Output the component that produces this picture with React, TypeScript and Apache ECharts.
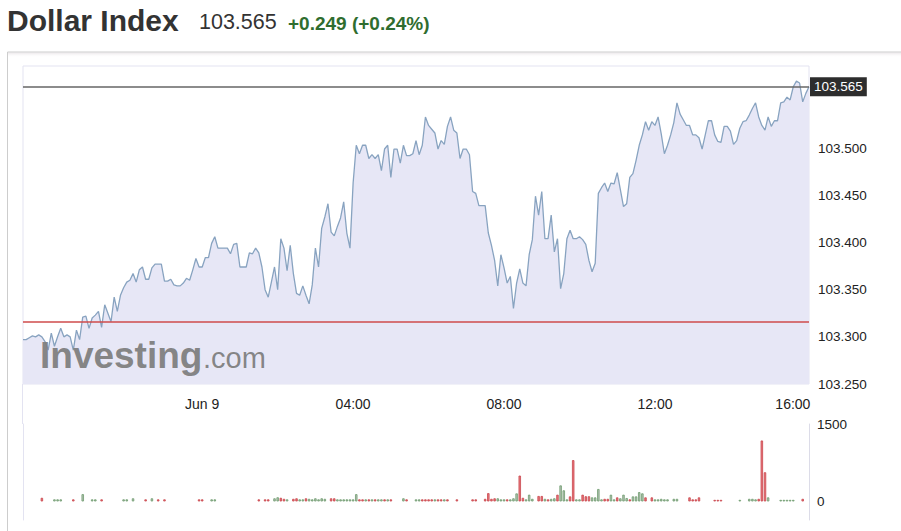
import { useEffect, useRef } from 'react';
import * as echarts from 'echarts';

const FONT = '"Liberation Sans", Arial, Helvetica, sans-serif';

const titleText = 'Dollar Index';
const lastPriceText = '103.565';
const changeText = '+0.249 (+0.24%)';
const watermarkMain = 'Investing';
const watermarkTail = '.com';

const lastPrice = 103.565;
const prevClose = 103.316;

// 5-minute closes from Jun 8 19:15 (minute -285 relative to Jun 9 00:00) to Jun 9 16:05
const startMinute = -285;
const stepMinutes = 5;
const priceValues = [
  103.297, 103.297, 103.299, 103.301, 103.300, 103.302, 103.300, 103.295, 103.286, 103.304,
  103.290, 103.300, 103.309, 103.300, 103.302, 103.300, 103.286, 103.307, 103.297, 103.321,
  103.322, 103.309, 103.320, 103.323, 103.327, 103.310, 103.334, 103.325, 103.316, 103.342,
  103.327, 103.344, 103.352, 103.358, 103.360, 103.367, 103.358, 103.371, 103.374, 103.361,
  103.361, 103.373, 103.377, 103.377, 103.377, 103.359, 103.359, 103.361, 103.355, 103.354,
  103.354, 103.357, 103.362, 103.360, 103.371, 103.383, 103.374, 103.374, 103.384, 103.384,
  103.399, 103.406, 103.394, 103.394, 103.394, 103.394, 103.388, 103.398, 103.399, 103.374,
  103.374, 103.374, 103.389, 103.388, 103.394, 103.389, 103.374, 103.350, 103.342, 103.358,
  103.374, 103.350, 103.404, 103.394, 103.370, 103.397, 103.367, 103.346, 103.344, 103.354,
  103.344, 103.335, 103.355, 103.394, 103.374, 103.415, 103.427, 103.441, 103.411, 103.407,
  103.417, 103.426, 103.443, 103.410, 103.394, 103.463, 103.503, 103.494, 103.503, 103.503,
  103.489, 103.493, 103.489, 103.493, 103.476, 103.499, 103.503, 103.469, 103.499, 103.499,
  103.484, 103.503, 103.492, 103.492, 103.494, 103.508, 103.493, 103.503, 103.533, 103.524,
  103.520, 103.516, 103.499, 103.508, 103.504, 103.523, 103.533, 103.519, 103.516, 103.489,
  103.499, 103.499, 103.493, 103.454, 103.452, 103.439, 103.439, 103.439, 103.410, 103.397,
  103.381, 103.354, 103.387, 103.373, 103.357, 103.364, 103.330, 103.357, 103.372, 103.357,
  103.354, 103.387, 103.403, 103.449, 103.429, 103.454, 103.404, 103.404, 103.429, 103.390,
  103.404, 103.351, 103.367, 103.404, 103.413, 103.404, 103.404, 103.406, 103.403, 103.398,
  103.381, 103.369, 103.378, 103.452, 103.458, 103.463, 103.454, 103.463, 103.462, 103.474,
  103.456, 103.438, 103.441, 103.469, 103.473, 103.487, 103.503, 103.514, 103.528, 103.519,
  103.528, 103.524, 103.533, 103.515, 103.494, 103.503, 103.514, 103.527, 103.548, 103.536,
  103.530, 103.524, 103.524, 103.514, 103.514, 103.511, 103.499, 103.514, 103.529, 103.529,
  103.514, 103.507, 103.506, 103.523, 103.523, 103.518, 103.504, 103.508, 103.521, 103.528,
  103.529, 103.535, 103.542, 103.548, 103.533, 103.524, 103.519, 103.533, 103.523, 103.529,
  103.529, 103.548, 103.549, 103.554, 103.551, 103.565, 103.571, 103.569, 103.549, 103.558,
  103.565,
];

// Volume bars: 5-minute slot index, volume, direction (u = up, d = down)
const volSlots = [
  6, 10, 11, 12, 16, 19, 22, 23, 25, 32,
  33, 35, 39, 41, 43, 45, 56, 57, 60, 61,
  75, 77, 78, 80, 81, 82, 83, 84, 86, 87,
  88, 89, 90, 91, 92, 93, 94, 95, 96, 98,
  99, 100, 101, 102, 103, 104, 105, 106, 107, 108,
  109, 110, 111, 112, 113, 114, 115, 116, 117, 121,
  122, 125, 126, 127, 128, 129, 130, 131, 132, 133,
  134, 135, 138, 143, 144, 147, 148, 149, 150, 151,
  152, 153, 154, 155, 156, 157, 158, 159, 160, 161,
  162, 164, 165, 166, 167, 168, 169, 170, 171, 172,
  173, 174, 175, 176, 177, 178, 179, 180, 181, 182,
  183, 184, 185, 186, 187, 188, 189, 190, 191, 192,
  193, 194, 195, 196, 197, 198, 200, 201, 202, 203,
  204, 205, 207, 208, 212, 213, 214, 215, 220, 221,
  222, 228, 231, 232, 233, 234, 235, 236, 237, 241,
  242, 243, 244, 245, 248,
];
const volValues = [
  70, 40, 40, 40, 40, 140, 40, 40, 40, 40,
  40, 60, 40, 60, 40, 40, 40, 40, 40, 40,
  40, 40, 40, 60, 80, 70, 50, 40, 50, 60,
  40, 40, 60, 50, 40, 60, 40, 60, 50, 60,
  60, 40, 40, 40, 40, 40, 40, 140, 40, 40,
  40, 40, 40, 40, 40, 40, 40, 40, 40, 60,
  40, 40, 40, 40, 40, 40, 40, 40, 40, 40,
  40, 40, 40, 40, 40, 50, 160, 50, 60, 60,
  40, 40, 40, 40, 60, 155, 500, 70, 40, 130,
  50, 105, 105, 50, 40, 50, 60, 130, 310, 215,
  40, 97, 800, 40, 40, 130, 100, 100, 78, 78,
  240, 40, 50, 50, 130, 40, 78, 60, 130, 65,
  40, 97, 97, 180, 156, 78, 78, 40, 40, 50,
  40, 40, 50, 50, 78, 40, 40, 78, 30, 30,
  30, 30, 50, 50, 40, 50, 1180, 565, 78, 30,
  30, 30, 30, 30, 50,
];
const volDirs = (
  'duuuduuudu' + 'uududddduu' + 'ddduuddudd' + 'uuduuuuuud' + 'duuuuuuudd' +
  'ududuududu' + 'duuddddudd' + 'uddddddddu' + 'uuduuudduu' + 'udduduuduu' +
  'udduuddduu' + 'uudduuduuu' + 'duuuudduuu' + 'uuuudddddd' + 'duuuuddduu' + 'uuuud'
).split('');

const xTickValues = [0, 240, 480, 720, 960];
const xTickLabels = ['Jun 9', '04:00', '08:00', '12:00', '16:00'];
const yTickValues = [103.25, 103.3, 103.35, 103.4, 103.45, 103.5];
const volTickValues = [0, 1500];

const xMin = startMinute;
const xMax = startMinute + (priceValues.length - 1) * stepMinutes;

export default function App() {
  const ref = useRef<HTMLDivElement>(null);

  useEffect(() => {
    if (!ref.current) return;
    const chart = echarts.init(ref.current, null, { renderer: 'svg' });

    const priceData = priceValues.map((v, i) => [startMinute + i * stepMinutes, v]);
    const volData = volSlots.map((s, i) => {
      const up = volDirs[i] === 'u';
      return {
        value: [startMinute + s * stepMinutes, volValues[i]],
        itemStyle: up
          ? { color: '#b7bfb7', borderColor: '#6d9d6d', borderWidth: 0.8 }
          : { color: '#e8777c', borderColor: '#c9474e', borderWidth: 0.8 },
      };
    });

    const option = {
      animation: false,
      textStyle: { fontFamily: FONT },
      grid: [
        {
          left: 23, right: 92, top: 66, height: 318,
          show: true, borderColor: '#e3e3f1', borderWidth: 1, backgroundColor: 'transparent',
        },
        { left: 23, right: 92, top: 424, height: 96 },
      ],
      xAxis: [
        {
          type: 'value', gridIndex: 0, min: xMin, max: xMax,
          axisLine: { show: false }, axisTick: { show: false }, splitLine: { show: false },
          axisLabel: {
            customValues: xTickValues,
            color: '#222', fontSize: 14, fontFamily: FONT, margin: 13,
            formatter: (v: number) => {
              const k = xTickValues.indexOf(v);
              if (k < 0) return '';
              return k === xTickValues.length - 1 ? '{r|' + xTickLabels[k] + '}' : xTickLabels[k];
            },
            rich: { r: { fontSize: 14, color: '#222', fontFamily: FONT, padding: [0, 26, 0, 0] } },
          },
        },
        { type: 'value', gridIndex: 1, min: xMin, max: xMax, show: false },
      ],
      yAxis: [
        {
          type: 'value', gridIndex: 0, position: 'right', min: 103.25, max: 103.587,
          axisLine: { show: false }, axisTick: { show: false }, splitLine: { show: false },
          axisLabel: {
            customValues: yTickValues, color: '#222', fontSize: 13.5, fontFamily: FONT, margin: 9,
            formatter: (v: number) => v.toFixed(3),
          },
        },
        {
          type: 'value', gridIndex: 1, position: 'right', min: -360, max: 1500,
          axisLine: { show: true, onZero: false, lineStyle: { color: '#dcdce8', width: 1 } },
          axisTick: { show: false }, splitLine: { show: false },
          axisLabel: {
            customValues: volTickValues, color: '#222', fontSize: 13.5, fontFamily: FONT, margin: 8,
            formatter: (v: number) => String(Math.round(v)),
          },
        },
        {
          type: 'value', gridIndex: 1, position: 'left', min: -360, max: 1500,
          axisLine: { show: true, onZero: false, lineStyle: { color: '#e3e3f1', width: 1 } },
          axisTick: { show: false }, splitLine: { show: false }, axisLabel: { show: false },
        },
      ],
      series: [
        {
          type: 'line', xAxisIndex: 0, yAxisIndex: 0, data: priceData,
          showSymbol: false, symbol: 'none',
          lineStyle: { color: '#88a3c0', width: 1.3 },
          areaStyle: { color: '#e7e7f6', opacity: 1, origin: 'start' },
          markLine: {
            silent: true, symbol: ['none', 'none'], animation: false, precision: 3,
            data: [
              {
                yAxis: lastPrice,
                lineStyle: { color: '#666', width: 1.5, type: 'solid' },
                label: {
                  show: true, position: 'end', distance: 1,
                  formatter: lastPriceText,
                  color: '#fff', backgroundColor: '#2d2d2d', padding: [3, 4, 2, 4],
                  fontSize: 13.5, fontFamily: FONT,
                },
              },
              {
                yAxis: prevClose,
                lineStyle: { color: '#cf4b4b', width: 1.5, type: 'solid' },
                label: { show: false },
              },
            ],
          },
        },
        {
          type: 'bar', xAxisIndex: 1, yAxisIndex: 1, data: volData, barWidth: 2.4,
        },
      ],
      graphic: [
        {
          type: 'text', x: 7, y: 20,
          style: { text: titleText, font: 'bold 30px ' + FONT, fill: '#333', verticalAlign: 'middle' },
        },
        {
          type: 'text', x: 199, y: 22,
          style: { text: lastPriceText, font: '21.5px ' + FONT, fill: '#333', verticalAlign: 'middle' },
        },
        {
          type: 'text', x: 288, y: 23.5,
          style: { text: changeText, font: 'bold 19px ' + FONT, fill: '#2f6d2f', verticalAlign: 'middle' },
        },
        {
          type: 'rect', shape: { x: 8, y: 52.5, width: 893, height: 5 },
          style: {
            fill: new echarts.graphic.LinearGradient(0, 0, 0, 1, [
              { offset: 0, color: '#ebe6e9' },
              { offset: 1, color: 'rgba(255,255,255,0)' },
            ]),
          },
        },
        {
          type: 'line', shape: { x1: 7.5, y1: 52, x2: 901, y2: 52 },
          style: { stroke: '#cdcdcd', lineWidth: 1 },
        },
        {
          type: 'line', shape: { x1: 7.5, y1: 52, x2: 7.5, y2: 531 },
          style: { stroke: '#cdcdcd', lineWidth: 1 },
        },
        {
          type: 'line', shape: { x1: 22.5, y1: 384, x2: 22.5, y2: 424 },
          style: { stroke: '#e3e3f1', lineWidth: 1 },
        },
        {
          type: 'text', x: 40, y: 355, z: 100,
          style: { text: watermarkMain, font: 'bold 37px ' + FONT, fill: '#7f7f7f', verticalAlign: 'middle', opacity: 0.95 },
        },
        {
          type: 'text', x: 203, y: 358, z: 100,
          style: { text: watermarkTail, font: '29px ' + FONT, fill: '#7f7f7f', verticalAlign: 'middle', opacity: 0.95 },
        },
      ],
    };

    chart.setOption(option as any);
    return () => chart.dispose();
  }, []);

  return (
    <div
      ref={ref}
      style={{ position: 'fixed', left: 0, top: 0, width: 901, height: 531, background: '#fff' }}
    />
  );
}
